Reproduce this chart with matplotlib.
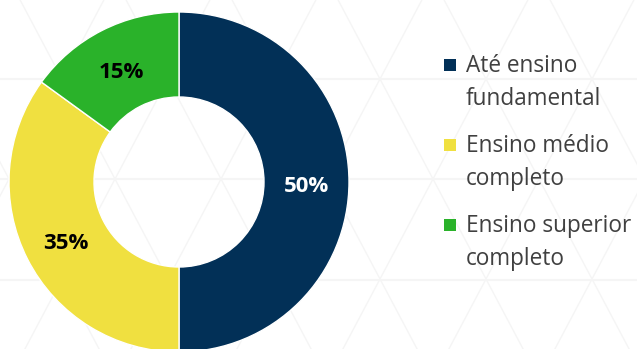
import numpy as np
import matplotlib
matplotlib.use('Agg')
import matplotlib.pyplot as plt
import matplotlib.transforms as mtransforms
from matplotlib.patches import Rectangle

# escolaridade - participação (%)
categorias = ['Até ensino\nfundamental', 'Ensino médio\ncompleto',
              'Ensino superior\ncompleto']
valores = [50, 35, 15]
cores = ['#023057', '#F0E040', '#2AB22A']
cores_rotulo = ['white', 'black', 'black']

W, H = 637, 349
fig = plt.figure(figsize=(W / 100, H / 100), dpi=100)
fig.patch.set_facecolor('white')

# fundo: grade triangular bem clara, em coordenadas de pixel
bg = fig.add_axes([0, 0, 1, 1], zorder=0)
bg.set_xlim(0, W)
bg.set_ylim(H, 0)
bg.axis('off')
linha = '#f5f5f5'
for y in (79, 179, 280):
    bg.plot([0, W], [y, y], color=linha, lw=1.5, zorder=1)
passo, dx = 106, 53
for k in range(-6, 10):
    x0 = 380 + passo * k
    ys = np.array([-20, H + 20])
    bg.plot(x0 + (ys - 79) * dx / 100, ys, color=linha, lw=1.0, zorder=1)
    bg.plot(x0 - (ys - 79) * dx / 100, ys, color=linha, lw=1.0, zorder=1)

# rosca
cx, cy, r = 179, 182, 170
ax = fig.add_axes([(cx - r) / W, (H - cy - r) / H, 2 * r / W, 2 * r / H],
                  zorder=1)
ax.patch.set_alpha(0)
wedges, _, autotexts = ax.pie(
    valores, colors=cores, startangle=90, counterclock=False, radius=1.0,
    wedgeprops=dict(width=0.5, edgecolor='white', linewidth=1.0),
    autopct=lambda p: f'{p:.0f}%', pctdistance=0.75,
    textprops=dict(fontfamily='Open Sans', fontweight='bold', fontsize=16))
desce = mtransforms.ScaledTranslation(0, -4 / 100, fig.dpi_scale_trans)
for t, c in zip(autotexts, cores_rotulo):
    t.set_color(c)
    t.set_transform(t.get_transform() + desce)
ax.set_xlim(-1, 1)
ax.set_ylim(-1, 1)
ax.set_aspect('equal')

# legenda
for i, (lab, cor) in enumerate(zip(categorias, cores)):
    y = 59 + 80 * i
    bg.add_patch(Rectangle((444, y), 12, 12, facecolor=cor, edgecolor='none',
                           zorder=3))
    bg.text(466, y - 5, lab, ha='left', va='top', fontsize=16.3,
            fontfamily='Open Sans', color='#404040', linespacing=1.5,
            zorder=3)

fig.savefig('out.png', dpi=100)
